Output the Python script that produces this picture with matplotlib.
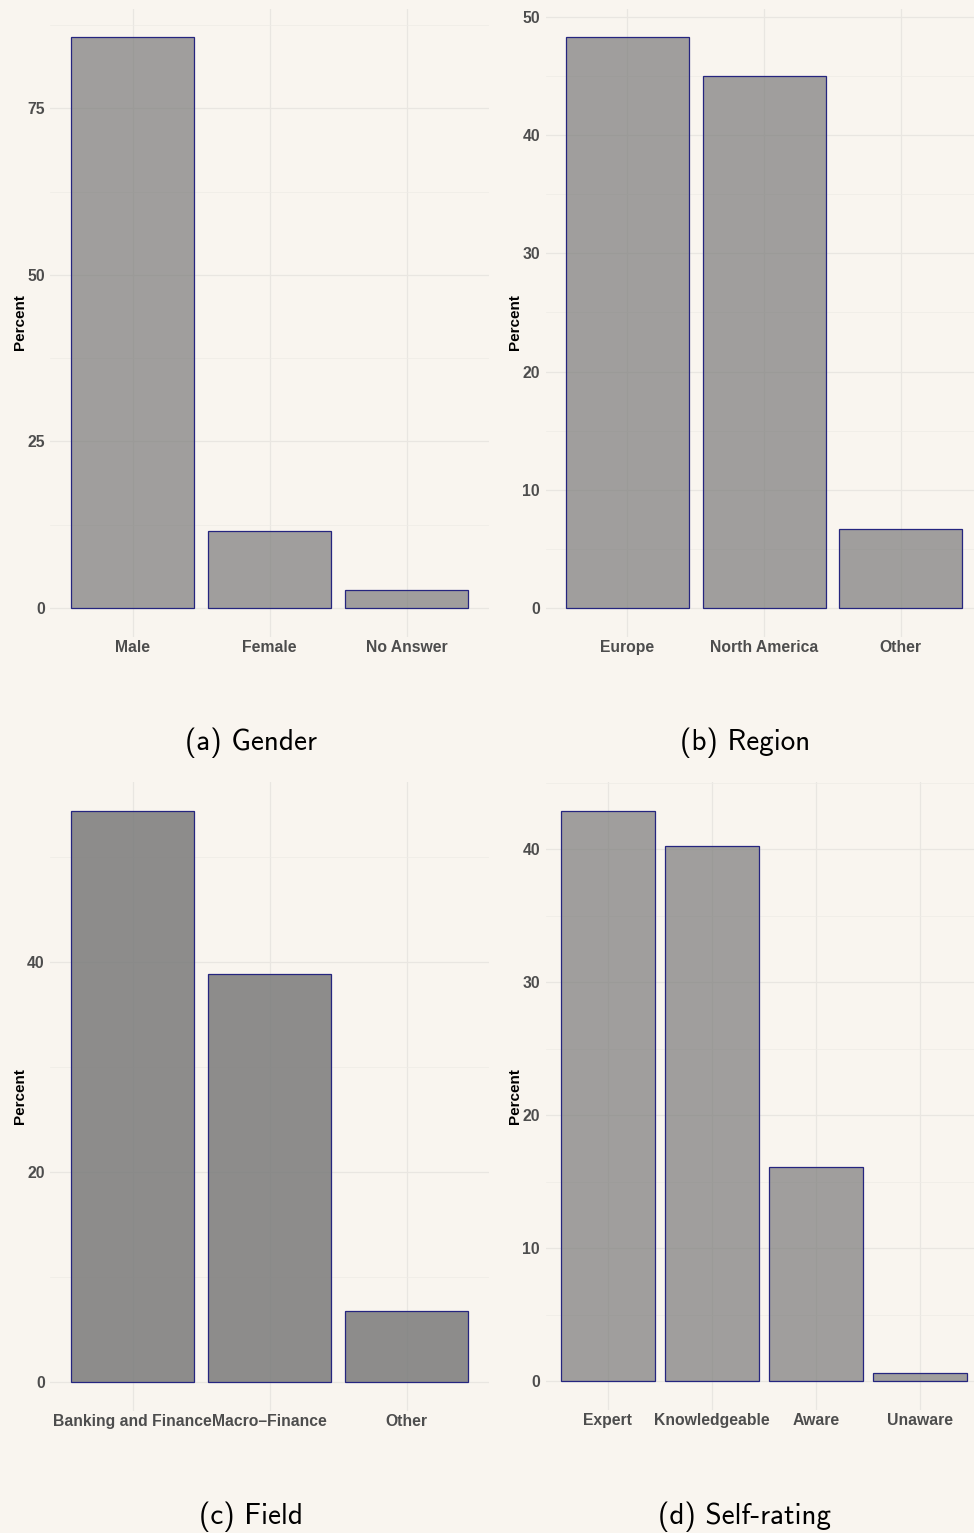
import matplotlib
matplotlib.use("Agg")
import matplotlib.pyplot as plt
from matplotlib.ticker import MultipleLocator

plt.rcParams['font.family'] = ['Liberation Sans', 'DejaVu Sans']

# survey composition, percent of respondents
gender_cats = ['Male', 'Female', 'No Answer']
gender_pct = [85.7, 11.6, 2.7]

region_cats = ['Europe', 'North America', 'Other']
region_pct = [48.3, 45.0, 6.7]

field_cats = ['Banking and Finance', 'Macro\u2013Finance', 'Other']
field_pct = [54.4, 38.8, 6.8]

rating_cats = ['Expert', 'Knowledgeable', 'Aware', 'Unaware']
rating_pct = [42.9, 40.2, 16.1, 0.6]

captions = ['(a)', '(b)', '(c)', '(d)']
caption_names = ['Gender', 'Region', 'Field', 'Self-rating']
major_steps = [25, 10, 20, 10]

BG = '#f9f5ef'
W, H = 974, 1533

fig = plt.figure(figsize=(W / 100, H / 100), dpi=100, facecolor=BG)

# plot areas in pixels: left, right, top, bottom
boxes = [(50.3, 488.7, 8.6, 636.5),
         (545.5, 982.7, 8.5, 636.5),
         (50.3, 488.7, 782.0, 1410.6),
         (545.6, 982.4, 782.0, 1409.6)]

panels = [(gender_cats, gender_pct), (region_cats, region_pct),
          (field_cats, field_pct), (rating_cats, rating_pct)]
alphas = [0.7, 0.7, 0.85, 0.7]
caption_pos = [(251, 743), (745, 743), (251, 1517), (745, 1517)]

for i, (cats, vals) in enumerate(panels):
    x0, x1, yt, yb = boxes[i]
    ax = fig.add_axes([x0 / W, 1 - yb / H, (x1 - x0) / W, (yb - yt) / H])
    ax.set_facecolor(BG)
    pos = list(range(1, len(cats) + 1))
    ax.bar(pos, vals, width=0.9, color=(0.478, 0.478, 0.478, alphas[i]),
           edgecolor='#25257f', linewidth=0.9, zorder=2)
    ymax = max(vals)
    ax.set_xlim(0.4, len(cats) + 0.6)
    ax.set_ylim(-0.05 * ymax, 1.05 * ymax)
    ax.set_xticks(pos)
    ax.set_xticklabels(cats)
    ax.yaxis.set_major_locator(MultipleLocator(major_steps[i]))
    ax.yaxis.set_minor_locator(MultipleLocator(major_steps[i] / 2))
    ax.set_axisbelow(True)
    ax.grid(which='major', color='#e9e6e1', linewidth=0.9, zorder=0)
    ax.grid(which='minor', axis='y', color='#eeebe6', linewidth=0.5, zorder=0)
    ax.tick_params(which='both', length=0)
    ax.tick_params(axis='y', pad=4)
    ax.tick_params(axis='x', pad=2.5)
    for lab in ax.get_xticklabels() + ax.get_yticklabels():
        lab.set_fontsize(11.3)
        lab.set_fontweight('bold')
        lab.set_color('#4d4d4d')
    for s in ax.spines.values():
        s.set_visible(False)
    ax.set_ylabel('Percent', fontsize=11, fontweight='bold', color='black',
                  labelpad=0)

    cx, cy = caption_pos[i]
    fig.text(cx / W, 1 - cy / H, captions[i] + ' ' + caption_names[i],
             family='cmss10', fontsize=21, ha='center', va='center',
             color='black')

fig.savefig('out.png', dpi=100, facecolor=BG)
